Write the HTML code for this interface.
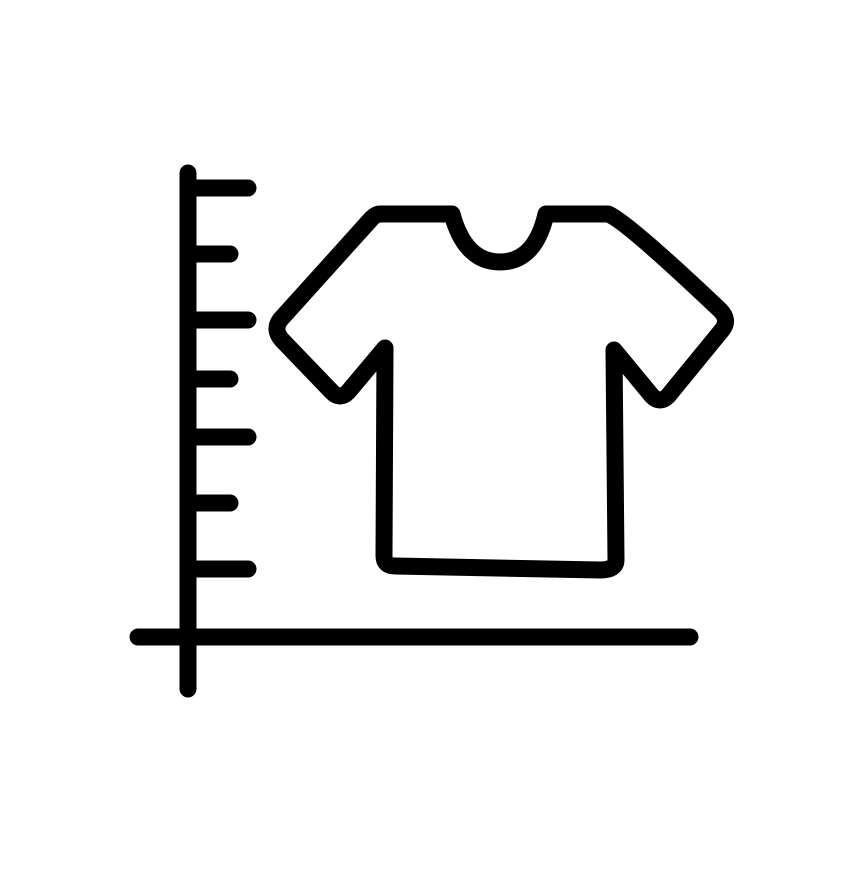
<!DOCTYPE html>
<html><head><meta charset="utf-8"><style>html,body{margin:0;padding:0;background:#fff}</style></head>
<body>
<svg width="864" height="864" viewBox="0 0 864 864" xmlns="http://www.w3.org/2000/svg">
<rect width="864" height="864" fill="#fff"/>
<g stroke="#000" stroke-width="17" stroke-linecap="round" stroke-linejoin="round" fill="none">
<line x1="188" y1="173" x2="188" y2="689"/>
<line x1="138" y1="637" x2="690" y2="637"/>
<line x1="188" y1="188" x2="248" y2="188"/>
<line x1="188" y1="254" x2="230" y2="254"/>
<line x1="188" y1="320" x2="248" y2="320"/>
<line x1="188" y1="379" x2="230" y2="379"/>
<line x1="188" y1="437" x2="248" y2="437"/>
<line x1="188" y1="503" x2="230" y2="503"/>
<line x1="188" y1="569" x2="248" y2="569"/>
<path d="M380 214 L452 214 Q465 262 500 262 Q535 262 546 214 L608 214 Q625 220 720 310 Q730 320 722 330 L668 396 Q660 404 652 396 L614 350 L616 560 Q616 570 600 570 L395 566 Q384 566 384 556 L385 348 L348 392 Q340 400 332 392 L282 340 Q273 330 280 320 L372 218 Q376 214 380 214 Z"/>
</g>
</svg>
</body></html>
